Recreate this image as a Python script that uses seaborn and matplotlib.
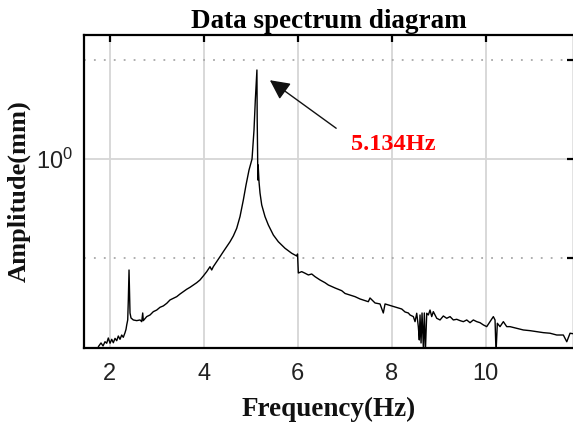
import numpy as np
import pandas as pd
import matplotlib
matplotlib.use("Agg")
import matplotlib.pyplot as plt
import seaborn as sns
from matplotlib.ticker import FixedLocator, NullFormatter, LogFormatterSciNotation

# ---------------- data ----------------
freq = [1.760, 1.817, 1.860, 1.902, 1.938, 1.972, 2.009, 2.045, 2.079, 2.115,
        2.151, 2.185, 2.221, 2.257, 2.291, 2.328, 2.349, 2.364, 2.385, 2.398,
        2.413, 2.426, 2.434, 2.455, 2.504, 2.577, 2.647, 2.683, 2.704, 2.717,
        2.789, 2.860, 2.930, 3.002, 3.072, 3.143, 3.215, 3.285, 3.355, 3.428,
        3.498, 3.568, 3.640, 3.711, 3.781, 3.853, 3.923, 3.994, 4.066, 4.136,
        4.172, 4.206, 4.279, 4.349, 4.419, 4.491, 4.562, 4.632, 4.704, 4.774,
        4.845, 4.902, 4.966, 5.030, 5.072, 5.100, 5.134, 5.140, 5.149, 5.153,
        5.160, 5.179, 5.200, 5.236, 5.306, 5.377, 5.483, 5.589, 5.732, 5.874,
        5.945, 5.981, 5.998, 6.015, 6.087, 6.157, 6.228, 6.300, 6.370, 6.477,
        6.583, 6.653, 6.796, 6.938, 7.009, 7.115, 7.221, 7.328, 7.504, 7.540,
        7.647, 7.753, 7.823, 7.860, 7.930, 8.072, 8.215, 8.285, 8.355, 8.391,
        8.462, 8.498, 8.534, 8.568, 8.589, 8.604, 8.626, 8.647, 8.674, 8.696,
        8.717, 8.747, 8.781, 8.817, 8.853, 8.887, 8.960, 9.030, 9.100, 9.172,
        9.243, 9.313, 9.385, 9.455, 9.526, 9.598, 9.668, 9.738, 9.811, 9.881,
        9.951, 10.023, 10.094, 10.164, 10.200, 10.221, 10.249, 10.306, 10.377, 10.449,
        10.519, 10.662, 10.802, 10.945, 11.087, 11.228, 11.370, 11.513, 11.653, 11.726,
        11.796, 11.902]

amplitude = [0.1127, 0.1177, 0.1137, 0.1194, 0.1173, 0.1247, 0.1173, 0.1228, 0.1180, 0.1242,
             0.1208, 0.1276, 0.1228, 0.1291, 0.1257, 0.1327, 0.1380, 0.1452, 0.1538, 0.1941,
             0.2750, 0.1941, 0.1668, 0.1574, 0.1538, 0.1526, 0.1538, 0.1508, 0.1668, 0.1526,
             0.1599, 0.1630, 0.1694, 0.1726, 0.1782, 0.1811, 0.1866, 0.1941, 0.1979, 0.2017,
             0.2080, 0.2138, 0.2198, 0.2249, 0.2310, 0.2372, 0.2449, 0.2566, 0.2698, 0.2858,
             0.2750, 0.2858, 0.3030, 0.3211, 0.3404, 0.3606, 0.3821, 0.4085, 0.4467, 0.5117,
             0.6209, 0.7390, 0.8800, 1.0000, 1.4010, 1.9860, 2.8160, 1.5740, 1.0480, 0.7830,
             0.9330, 0.7650, 0.6730, 0.5860, 0.5117, 0.4642, 0.4132, 0.3821, 0.3540, 0.3341,
             0.3273, 0.3236, 0.3313, 0.2656, 0.2698, 0.2649, 0.2596, 0.2625, 0.2545, 0.2449,
             0.2372, 0.2310, 0.2231, 0.2162, 0.2093, 0.2056, 0.2017, 0.1963, 0.1902, 0.1986,
             0.1874, 0.1853, 0.1668, 0.1853, 0.1832, 0.1790, 0.1747, 0.1688, 0.1668, 0.1630,
             0.1599, 0.1508, 0.1663, 0.1423, 0.1219, 0.1630, 0.1177, 0.1668, 0.1127, 0.1668,
             0.1050, 0.1663, 0.1630, 0.1726, 0.1599, 0.1694, 0.1568, 0.1538, 0.1611, 0.1568,
             0.1599, 0.1538, 0.1550, 0.1526, 0.1508, 0.1538, 0.1490, 0.1538, 0.1508, 0.1490,
             0.1452, 0.1423, 0.1508, 0.1599, 0.1538, 0.1050, 0.1480, 0.1423, 0.1508, 0.1423,
             0.1423, 0.1396, 0.1369, 0.1358, 0.1342, 0.1327, 0.1318, 0.1291, 0.1291, 0.1194,
             0.1318, 0.1306]

x_ticks = [2, 4, 6, 8, 10]
y_major_ticks = [1.0]
y_minor_ticks = [0.3162, 3.162]
x_limits = (1.455, 11.88)
y_limits = (0.111, 4.23)

title_text = "Data spectrum diagram"
x_label = "Frequency(Hz)"
y_label = "Amplitude(mm)"
peak_text = "5.134Hz"
arrow_tip = (5.41, 2.50)
arrow_tail = (6.82, 1.43)
peak_text_pos = (8.03, 1.18)

# ---------------- style ----------------
sns.set_theme(style="white")
plt.rcParams["font.family"] = ["Liberation Sans", "DejaVu Sans"]
plt.rcParams["mathtext.fontset"] = "custom"
plt.rcParams["mathtext.rm"] = "Liberation Sans"
plt.rcParams["mathtext.it"] = "Liberation Sans"
plt.rcParams["mathtext.bf"] = "Liberation Sans"

W, H = 573, 422
fig = plt.figure(figsize=(W / 100, H / 100), dpi=100)
ax = fig.add_axes([84 / W, (H - 348) / H, 490 / W, (348 - 35) / H])

df = pd.DataFrame({"Frequency": freq, "Amplitude": amplitude})
sns.lineplot(data=df, x="Frequency", y="Amplitude", ax=ax, color="black",
             linewidth=1.0, sort=False, estimator=None, legend=False)

ax.set_yscale("log")
ax.set_xlim(*x_limits)
ax.set_ylim(*y_limits)

ax.xaxis.set_major_locator(FixedLocator(x_ticks))
ax.yaxis.set_major_locator(FixedLocator(y_major_ticks))
ax.yaxis.set_major_formatter(LogFormatterSciNotation())
ax.yaxis.set_minor_locator(FixedLocator(y_minor_ticks))
ax.yaxis.set_minor_formatter(NullFormatter())

ax.grid(True, which="major", color="#d6d6d6", linewidth=1.3, linestyle="-")
ax.yaxis.grid(True, which="minor", color="#a8a8a8", linewidth=1.3, linestyle=(0, (1, 4.5)))
ax.set_axisbelow(True)

for side in ["left", "bottom", "top", "right"]:
    ax.spines[side].set_visible(True)
    ax.spines[side].set_color("black")
    ax.spines[side].set_linewidth(1.6)

ax.tick_params(axis="both", which="both", direction="in", top=True, right=True,
               length=5, width=1.6, color="black")
ax.tick_params(axis="x", which="major", labelsize=17, labelcolor="#222222", pad=11)
ax.tick_params(axis="y", which="major", labelsize=17, labelcolor="#222222", pad=8)

ax.set_title(title_text, fontsize=19.5, fontweight="bold", family="Liberation Serif",
             pad=5, color="black")
ax.set_xlabel(x_label, fontsize=19.5, fontweight="bold", family="Liberation Serif",
              labelpad=8, color="#111111")
ax.set_ylabel(y_label, fontsize=19, fontweight="bold", family="Liberation Serif",
              labelpad=4, color="#111111")

ax.annotate("", xy=arrow_tip, xytext=arrow_tail,
            arrowprops=dict(arrowstyle="-|>,head_length=0.6,head_width=0.3",
                            color="#111111", linewidth=1.0, mutation_scale=20,
                            shrinkA=0, shrinkB=0))
ax.text(peak_text_pos[0], peak_text_pos[1], peak_text, color="red", fontsize=17.5,
        fontweight="bold", family="Liberation Serif", ha="center", va="center")

fig.savefig("out.png", dpi=100)
